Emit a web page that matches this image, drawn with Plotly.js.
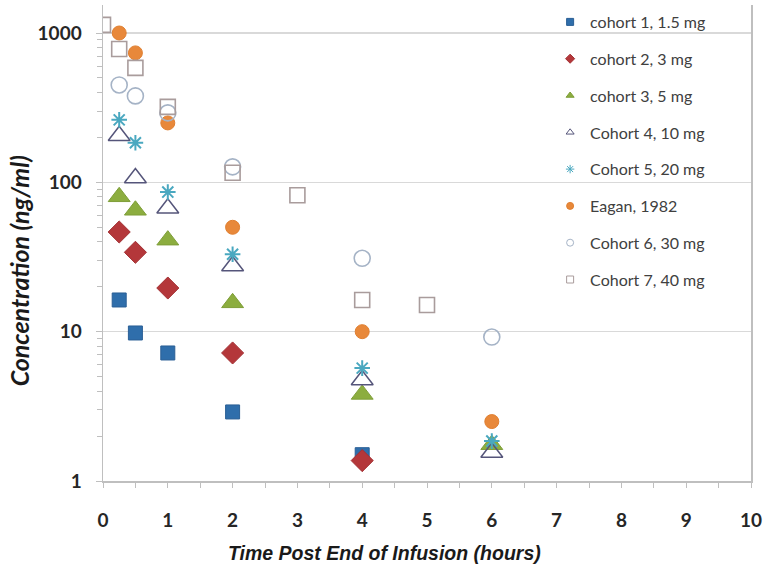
<!DOCTYPE html>
<html>
<head>
<meta charset="utf-8">
<script src="https://cdn.plot.ly/plotly-3.0.1.min.js"></script>
<style>html,body{margin:0;padding:0;background:#fff;}#chart{width:764px;height:573px;}</style>
</head>
<body>
<div id="chart"></div>
<script>
// Data (hours after end of infusion, concentration ng/ml)
const seriesNames = ["cohort 1, 1.5 mg", "cohort 2, 3 mg", "cohort 3, 5 mg", "Cohort 4, 10 mg",
                     "Cohort 5, 20 mg", "Eagan, 1982", "Cohort 6, 30 mg", "Cohort 7, 40 mg"];
const cohort1X = [0.25, 0.5, 1, 2, 4];
const cohort1Y = [16.3, 9.8, 7.2, 2.9, 1.5];
const cohort2X = [0.25, 0.5, 1, 2, 4];
const cohort2Y = [46.5, 34, 19.6, 7.2, 1.37];
const cohort3X = [0.25, 0.5, 1, 2, 4, 6];
const cohort3Y = [80, 65, 41, 15.6, 3.8, 1.75];
const cohort4X = [0.25, 0.5, 1, 2, 4, 6];
const cohort4Y = [205, 107, 67, 27.5, 4.75, 1.55];
const cohort5X = [0.25, 0.5, 1, 2, 4, 6];
const cohort5Y = [262, 184, 86, 33, 5.7, 1.85];
const eaganX = [0.25, 0.5, 1, 2, 4, 6];
const eaganY = [1000, 736, 250, 50, 10, 2.5];
const cohort6X = [0.25, 0.5, 1, 2, 4, 6];
const cohort6Y = [449, 379, 292, 127, 31, 9.2];
const cohort7X = [0, 0.25, 0.5, 1, 2, 3, 4, 5];
const cohort7Y = [1133, 782, 584, 320, 116, 82, 16.3, 15.1];
const xTickVals = [0, 1, 2, 3, 4, 5, 6, 7, 8, 9, 10];

const styles = [
  {symbol: "square", color: "#2F6EAB", size: 14, line: {color: "#2A5F95", width: 1}},
  {symbol: "diamond", color: "#B4373A", size: 17, line: {color: "#A33033", width: 1}},
  {symbol: "triangle-up", color: "#8CAD3F", size: 19, line: {color: "#7E9E38", width: 1}},
  {symbol: "triangle-up-open", color: "#55557A", size: 19, line: {color: "#55557A", width: 1.5}},
  {symbol: "asterisk-open", color: "#4AA8C0", size: 13, line: {color: "#4AA8C0", width: 2}},
  {symbol: "circle", color: "#E8883A", size: 14, line: {color: "#E07F30", width: 1}},
  {symbol: "circle-open", color: "#A5B3C6", size: 16, line: {color: "#A5B3C6", width: 1.6}},
  {symbol: "square-open", color: "#A99C9C", size: 15, line: {color: "#A99C9C", width: 1.6}}
];
const xs = [cohort1X, cohort2X, cohort3X, cohort4X, cohort5X, eaganX, cohort6X, cohort7X];
const ys = [cohort1Y, cohort2Y, cohort3Y, cohort4Y, cohort5Y, eaganY, cohort6Y, cohort7Y];

const traces = [];
for (let i = 0; i < seriesNames.length; i++) {
  traces.push({
    type: "scatter", mode: "markers", x: xs[i], y: ys[i], name: seriesNames[i],
    showlegend: false, hoverinfo: "x+y",
    marker: {symbol: styles[i].symbol, color: styles[i].color, size: styles[i].size, line: styles[i].line}
  });
}
// legend entries with small symbols
for (let i = 0; i < seriesNames.length; i++) {
  traces.push({
    type: "scatter", mode: "markers", x: [null], y: [null], name: seriesNames[i],
    legendgroup: "g" + i, showlegend: true,
    marker: {symbol: styles[i].symbol, color: styles[i].color, size: 7,
             line: {color: styles[i].line.color, width: 1}}
  });
}

const axisColor = "#BFBFBF";
const layout = {
  width: 764, height: 573,
  margin: {l: 103, r: 13, t: 5, b: 92},
  paper_bgcolor: "#ffffff", plot_bgcolor: "#ffffff",
  font: {family: "Lato, 'Liberation Sans', sans-serif", color: "#1a1a1a"},
  showlegend: true,
  legend: {
    x: 0.69, xanchor: "left", y: 1.0, yanchor: "top",
    bgcolor: "rgba(0,0,0,0)", borderwidth: 0,
    font: {family: "Lato, sans-serif", size: 16, color: "#404040"},
    traceorder: "grouped", tracegroupgap: 13, itemwidth: 30
  },
  xaxis: {
    range: [0, 10], tickmode: "array", tickvals: xTickVals,
    ticks: "outside", ticklen: 5, tickcolor: axisColor, tickwidth: 1,
    showline: true, linecolor: axisColor, linewidth: 1.5,
    showgrid: false, zeroline: false,
    ticklabelstandoff: 17,
    tickfont: {size: 19, color: "#262626", family: "Lato, sans-serif", weight: "bold"},
    minor: {ticks: "outside", dtick: 0.5, ticklen: 5, tickcolor: axisColor, showgrid: false}
  },
  yaxis: {
    type: "log", range: [0, 3.1875], dtick: 1,
    ticks: "outside", ticklen: 6, tickcolor: axisColor,
    showline: true, linecolor: axisColor, linewidth: 1.5, mirror: true,
    showgrid: true, gridcolor: "#D9D9D9", gridwidth: 1.5, zeroline: false,
    ticklabelstandoff: 10,
    tickfont: {size: 19, color: "#262626", family: "Lato, sans-serif", weight: "bold"},
    minor: {ticks: "outside", dtick: "D1", ticklen: 5, tickcolor: axisColor, showgrid: false}
  },
  annotations: [
    {text: "<b><i>Time Post End of Infusion (hours)</i></b>", xref: "paper", yref: "paper",
     x: 0.435, y: -0.152, xanchor: "center", yanchor: "middle", showarrow: false,
     font: {family: "'Liberation Sans', Arial, sans-serif", size: 19.5, color: "#1a1a1a"}},
    {text: "<b><i>Concentration (ng/ml)</i></b>", xref: "paper", yref: "paper",
     x: -0.13, y: 0.442, xanchor: "center", yanchor: "middle", showarrow: false, textangle: -90,
     font: {family: "Lato, sans-serif", size: 25, color: "#1a1a1a"}}
  ]
};

Plotly.newPlot("chart", traces, layout, {displayModeBar: false, staticPlot: true});
</script>
</body>
</html>
